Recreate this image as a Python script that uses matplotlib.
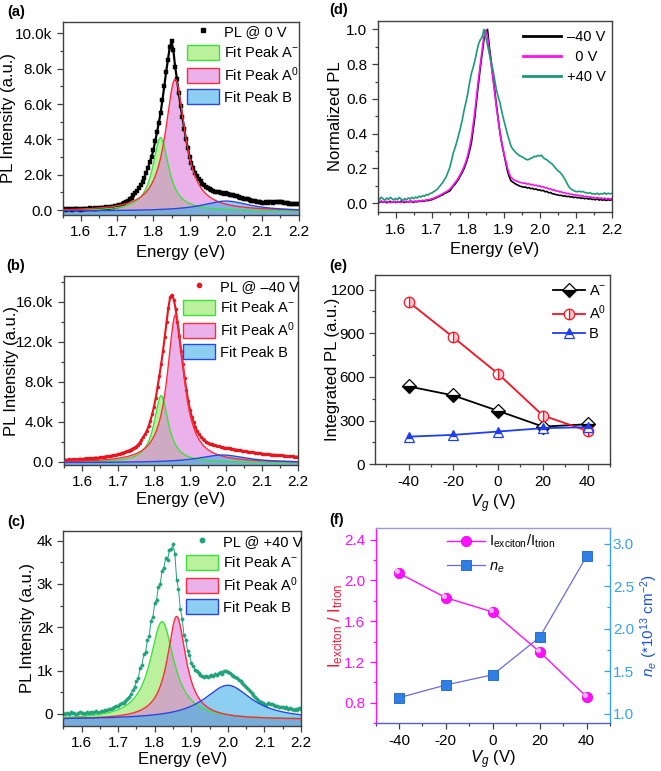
import numpy as np
import matplotlib
matplotlib.use("Agg")
import matplotlib.pyplot as plt
from matplotlib.lines import Line2D
from matplotlib.patches import Patch
from matplotlib.ticker import MultipleLocator
from matplotlib.colors import to_rgba
from matplotlib.transforms import ScaledTranslation

plt.rcParams['font.family'] = ['Liberation Sans', 'DejaVu Sans']
plt.rcParams['mathtext.fontset'] = 'custom'
plt.rcParams['mathtext.rm'] = 'Liberation Sans'
plt.rcParams['mathtext.it'] = 'Liberation Sans:italic'
plt.rcParams['mathtext.bf'] = 'Liberation Sans:bold'
plt.rcParams['axes.unicode_minus'] = False

# ---------------- data ----------------
# spectra sampled from 1.55 eV to 2.20 eV in 0.005 eV steps (131 points)
energy_start = 1.55
energy_step = 0.005
n_points = 131
energy = np.round(energy_start + energy_step * np.arange(n_points), 3)

# (a) PL @ 0 V (k counts)
pl_0V = [
    0.04, 0.07, 0.03, 0.06, 0.05, 0.02, 0.06, 0.04, 0.07, 0.05,
    0.03, 0.06, 0.08, 0.05, 0.07, 0.09, 0.06, 0.08, 0.10, 0.07,
    0.10, 0.12, 0.10, 0.13, 0.15, 0.14, 0.17, 0.19, 0.20, 0.24,
    0.25, 0.29, 0.31, 0.36, 0.40, 0.46, 0.52, 0.62, 0.70, 0.83,
    0.94, 1.08, 1.24, 1.42, 1.60, 1.84, 2.10, 2.40, 2.72, 3.02,
    3.40, 3.90, 4.40, 4.95, 5.50, 6.25, 7.00, 7.80, 8.50, 9.20,
    9.55, 9.05, 8.10, 7.40, 6.60, 5.90, 5.25, 4.60, 4.00, 3.50,
    3.00, 2.65, 2.38, 2.12, 1.92, 1.75, 1.62, 1.50, 1.40, 1.30,
    1.24, 1.17, 1.12, 1.07, 1.05, 1.00, 1.01, 0.97, 0.96, 0.93,
    0.94, 0.90, 0.88, 0.85, 0.83, 0.79, 0.77, 0.73, 0.71, 0.68,
    0.64, 0.62, 0.60, 0.56, 0.54, 0.51, 0.50, 0.47, 0.45, 0.44,
    0.42, 0.41, 0.43, 0.40, 0.43, 0.44, 0.42, 0.46, 0.45, 0.48,
    0.47, 0.44, 0.42, 0.40, 0.38, 0.37, 0.36, 0.33, 0.35, 0.32,
    0.34]

# (b) PL @ -40 V (k counts)
pl_m40V = [
    0.15, 0.22, 0.18, 0.25, 0.20, 0.24, 0.28, 0.22, 0.27, 0.31,
    0.26, 0.30, 0.34, 0.29, 0.35, 0.38, 0.33, 0.40, 0.42, 0.38,
    0.45, 0.48, 0.46, 0.52, 0.55, 0.54, 0.60, 0.63, 0.66, 0.70,
    0.74, 0.80, 0.85, 0.92, 0.98, 1.05, 1.12, 1.20, 1.30, 1.40,
    1.52, 1.68, 1.90, 2.15, 2.45, 2.75, 3.10, 3.55, 4.10, 4.75,
    5.50, 6.40, 7.50, 8.60, 9.80, 11.10, 12.50, 14.00, 15.40, 16.50,
    16.70, 16.20, 15.30, 14.00, 12.60, 11.10, 9.80, 8.40, 7.20, 6.10,
    5.20, 4.50, 3.95, 3.45, 3.05, 2.75, 2.50, 2.30, 2.15, 2.00,
    1.90, 1.82, 1.78, 1.70, 1.64, 1.58, 1.55, 1.48, 1.45, 1.42,
    1.40, 1.35, 1.33, 1.28, 1.26, 1.22, 1.21, 1.16, 1.14, 1.11,
    1.06, 1.05, 1.00, 0.99, 0.95, 0.93, 0.90, 0.87, 0.84, 0.83,
    0.80, 0.79, 0.77, 0.75, 0.73, 0.72, 0.70, 0.69, 0.67, 0.66,
    0.64, 0.63, 0.60, 0.60, 0.57, 0.56, 0.54, 0.53, 0.51, 0.50,
    0.50]

# (c) PL @ +40 V (k counts)
pl_p40V = [
    0.02, -0.01, 0.03, 0.00, 0.04, 0.01, 0.03, -0.02, 0.02, 0.04,
    0.01, 0.03, 0.00, 0.04, 0.02, 0.05, 0.01, 0.04, 0.06, 0.03,
    0.05, 0.07, 0.06, 0.09, 0.08, 0.11, 0.12, 0.14, 0.15, 0.18,
    0.19, 0.22, 0.24, 0.26, 0.30, 0.35, 0.40, 0.47, 0.56, 0.63,
    0.75, 0.82, 1.06, 1.12, 1.38, 1.42, 1.70, 1.80, 2.15, 2.24,
    2.55, 2.64, 2.93, 3.00, 3.30, 3.38, 3.60, 3.55, 3.78, 3.80,
    3.92, 3.70, 3.10, 2.88, 2.42, 2.20, 1.82, 1.70, 1.45, 1.36,
    1.18, 1.10, 1.02, 0.98, 0.95, 0.90, 0.88, 0.86, 0.88, 0.85,
    0.87, 0.90, 0.88, 0.92, 0.90, 0.95, 0.97, 0.93, 0.98, 1.00,
    0.96, 0.95, 0.90, 0.88, 0.84, 0.83, 0.78, 0.76, 0.72, 0.66,
    0.62, 0.57, 0.53, 0.48, 0.43, 0.38, 0.34, 0.30, 0.27, 0.24,
    0.23, 0.21, 0.24, 0.22, 0.23, 0.20, 0.18, 0.19, 0.16, 0.17,
    0.15, 0.14, 0.15, 0.12, 0.13, 0.11, 0.10, 0.12, 0.09, 0.13,
    0.12]

# (d) normalized PL
norm_m40V = [
    0.010, 0.004, 0.012, 0.006, 0.010, 0.003, 0.008, 0.011, 0.005, 0.009,
    0.004, 0.010, 0.006, 0.012, 0.008, 0.004, 0.010, 0.007, 0.012, 0.009,
    0.005, 0.011, 0.008, 0.013, 0.010, 0.014, 0.012, 0.017, 0.015, 0.019,
    0.020, 0.026, 0.028, 0.035, 0.038, 0.045, 0.048, 0.056, 0.060, 0.066,
    0.070, 0.085, 0.100, 0.110, 0.125, 0.140, 0.160, 0.178, 0.200, 0.228,
    0.260, 0.300, 0.345, 0.420, 0.500, 0.600, 0.690, 0.780, 0.860, 0.940,
    0.985, 1.000, 0.900, 0.820, 0.730, 0.650, 0.560, 0.480, 0.400, 0.340,
    0.290, 0.240, 0.190, 0.155, 0.130, 0.122, 0.115, 0.108, 0.104, 0.098,
    0.096, 0.092, 0.094, 0.088, 0.090, 0.084, 0.086, 0.080, 0.082, 0.076,
    0.077, 0.072, 0.074, 0.066, 0.068, 0.060, 0.062, 0.055, 0.053, 0.050,
    0.048, 0.045, 0.046, 0.041, 0.043, 0.038, 0.040, 0.036, 0.037, 0.033,
    0.035, 0.031, 0.033, 0.028, 0.030, 0.026, 0.029, 0.024, 0.027, 0.022,
    0.023, 0.020, 0.025, 0.018, 0.022, 0.017, 0.021, 0.016, 0.020, 0.018,
    0.020]
norm_0V = [
    0.008, 0.012, 0.006, 0.010, 0.005, 0.011, 0.007, 0.003, 0.009, 0.006,
    0.011, 0.005, 0.009, 0.004, 0.008, 0.012, 0.006, 0.010, 0.007, 0.012,
    0.009, 0.013, 0.010, 0.015, 0.012, 0.017, 0.015, 0.020, 0.019, 0.023,
    0.025, 0.029, 0.033, 0.038, 0.043, 0.048, 0.054, 0.060, 0.066, 0.072,
    0.080, 0.092, 0.105, 0.118, 0.132, 0.148, 0.168, 0.188, 0.212, 0.240,
    0.275, 0.320, 0.375, 0.450, 0.530, 0.625, 0.715, 0.800, 0.880, 0.960,
    0.995, 0.960, 0.880, 0.800, 0.715, 0.635, 0.550, 0.475, 0.405, 0.345,
    0.295, 0.250, 0.205, 0.172, 0.150, 0.140, 0.132, 0.128, 0.124, 0.120,
    0.118, 0.115, 0.116, 0.110, 0.112, 0.106, 0.108, 0.102, 0.104, 0.098,
    0.100, 0.094, 0.095, 0.088, 0.090, 0.082, 0.083, 0.076, 0.077, 0.070,
    0.071, 0.065, 0.066, 0.060, 0.061, 0.055, 0.057, 0.051, 0.052, 0.047,
    0.049, 0.044, 0.046, 0.041, 0.043, 0.038, 0.040, 0.035, 0.037, 0.033,
    0.034, 0.030, 0.033, 0.028, 0.031, 0.026, 0.030, 0.025, 0.028, 0.024,
    0.027]
norm_p40V = [
    0.030, 0.022, 0.035, 0.025, 0.018, 0.030, 0.022, 0.034, 0.026, 0.019,
    0.028, 0.021, 0.033, 0.024, 0.016, 0.027, 0.020, 0.031, 0.024, 0.034,
    0.026, 0.036, 0.030, 0.041, 0.035, 0.044, 0.040, 0.050, 0.047, 0.056,
    0.058, 0.066, 0.072, 0.080, 0.092, 0.105, 0.118, 0.135, 0.150, 0.178,
    0.205, 0.245, 0.290, 0.320, 0.355, 0.395, 0.435, 0.480, 0.535, 0.580,
    0.630, 0.690, 0.745, 0.780, 0.820, 0.870, 0.915, 0.940, 0.955, 1.000,
    0.960, 0.910, 0.860, 0.815, 0.770, 0.710, 0.650, 0.610, 0.575, 0.525,
    0.480, 0.440, 0.400, 0.365, 0.330, 0.312, 0.300, 0.288, 0.280, 0.272,
    0.268, 0.262, 0.255, 0.250, 0.252, 0.258, 0.262, 0.270, 0.268, 0.275,
    0.272, 0.276, 0.262, 0.255, 0.250, 0.240, 0.232, 0.225, 0.212, 0.200,
    0.188, 0.180, 0.170, 0.155, 0.138, 0.118, 0.098, 0.085, 0.078, 0.072,
    0.068, 0.066, 0.070, 0.065, 0.068, 0.062, 0.060, 0.057, 0.061, 0.054,
    0.055, 0.052, 0.058, 0.050, 0.056, 0.053, 0.060, 0.052, 0.058, 0.054,
    0.057]

# Lorentzian fit peaks: (center eV, half width eV, amplitude k), plus constant offset
fit_0V = [(1.82, 0.027, 4.16), (1.86, 0.033, 7.46), (2.00, 0.080, 0.57)]
fit_0V_offset = -0.06
fit_m40V = [(1.82, 0.024, 6.70), (1.86, 0.028, 14.80), (1.99, 0.080, 0.77)]
fit_m40V_offset = -0.10
fit_p40V = [(1.82, 0.040, 2.26), (1.86, 0.031, 2.38), (2.00, 0.080, 0.79)]
fit_p40V_offset = -0.13

# (e) integrated PL
gate_V = [-40, -20, 0, 20, 40]
int_Aminus = [535, 473, 367, 259, 275]
int_A0 = [1115, 872, 622, 335, 229]
int_B = [190, 202, 225, 248, 255]

# (f)
ratio_exc_trion = [2.07, 1.83, 1.69, 1.30, 0.86]
n_e = [1.19, 1.34, 1.46, 1.90, 2.85]

# tick labels
ticks_a = [0, 2, 4, 6, 8, 10]
ticklabels_a = ['0.0', '2.0k', '4.0k', '6.0k', '8.0k', '10.0k']
ticks_b = [0, 4, 8, 12, 16]
ticklabels_b = ['0.0', '4.0k', '8.0k', '12.0k', '16.0k']
ticks_c = [0, 1, 2, 3, 4]
ticklabels_c = ['0', '1k', '2k', '3k', '4k']
energy_ticks = [1.6, 1.7, 1.8, 1.9, 2.0, 2.1, 2.2]

# ---------------- figure ----------------
W, H = 661, 771
fig = plt.figure(figsize=(W / 100, H / 100), dpi=100)


def pos(l, t, r, b):
    return [l / W, 1 - b / H, (r - l) / W, (b - t) / H]


FRAME = '#404040'
TICK_FS = 11
LABEL_FS = 12
LEG_FS = 10.5


def style(ax, spine_color=FRAME):
    for s in ax.spines.values():
        s.set_color(spine_color)
        s.set_linewidth(1.0)
    ax.tick_params(which='both', direction='out', top=False, right=False,
                   color=FRAME, labelsize=TICK_FS, width=0.9)
    ax.tick_params(which='major', length=4)
    ax.tick_params(which='minor', length=2.2)


def lorentz(E, center, hw, amp):
    return amp * hw ** 2 / ((E - center) ** 2 + hw ** 2)


fill_cols = ['#8ee85a', '#dc7ddc', '#3fb0ea']
edge_cols = ['#3ee03e', '#ff2a3a', '#2a45e0']
fit_names = ['Fit Peak A$^{-}$', 'Fit Peak A$^{0}$', 'Fit Peak B']


def pl_panel(ax, data, color, marker, ms, lw, label, fits, offset, ylim, yticks,
             yticklabels, yminor, leg_xy):
    Ef = np.linspace(energy[0], energy[-1], 700)
    curves = [offset + lorentz(Ef, *p) for p in fits]
    for y, fc in zip(curves, fill_cols):
        ax.fill_between(Ef, y, ylim[0], color=fc, alpha=0.6, lw=0, zorder=1)
    ax.plot(energy, data, ls='-', lw=lw, marker=marker, ms=ms, color=color,
            mec=color, mew=0.3, zorder=2)
    for y, ec in zip(curves, edge_cols):
        ax.plot(Ef, y, color=ec, lw=1.0, zorder=3)
    ax.set_xlim(1.55, 2.2)
    ax.set_ylim(*ylim)
    ax.set_xticks(energy_ticks)
    ax.set_xticklabels([f'{t:.1f}' for t in energy_ticks])
    ax.xaxis.set_minor_locator(MultipleLocator(0.05))
    ax.set_yticks(yticks)
    ax.set_yticklabels(yticklabels)
    ax.yaxis.set_minor_locator(MultipleLocator(yminor))
    style(ax)
    handles = [Line2D([], [], ls='none', marker=marker, ms=ms + 0.8, color=color)]
    for fc, ec in zip(fill_cols, edge_cols):
        handles.append(Patch(facecolor=to_rgba(fc, 0.6), edgecolor=ec, lw=1.0))
    ax.legend(handles, [label] + fit_names, loc='upper left',
              bbox_to_anchor=(leg_xy[0] / W, 1 - leg_xy[1] / H),
              bbox_transform=fig.transFigure, frameon=False, fontsize=LEG_FS,
              handlelength=2.2, handleheight=1.2, handletextpad=0.35,
              labelspacing=0.36, borderpad=0, borderaxespad=0)


def labels(ax, xlabel, ylabel, box, xtop, yright):
    l, t, r, b = box
    ax.set_xlabel(xlabel, fontsize=LABEL_FS)
    ax.set_ylabel(ylabel, fontsize=LABEL_FS)
    ax.xaxis.set_label_coords(0.5, (b - xtop) / (b - t))
    ax.yaxis.set_label_coords((yright - l) / (r - l), 0.5)


box_a = (62.7, 21.7, 298.5, 215)
box_b = (64, 276, 298, 465)
box_c = (63.3, 530.7, 301, 726)
box_d = (377.7, 20.7, 611.7, 212.3)
box_e = (375, 275, 610, 464.3)
box_f = (375.5, 528.3, 610, 723.3)

ax_a = fig.add_axes(pos(*box_a))
ax_b = fig.add_axes(pos(*box_b))
ax_c = fig.add_axes(pos(*box_c))
ax_d = fig.add_axes(pos(*box_d))
ax_e = fig.add_axes(pos(*box_e))
ax_f = fig.add_axes(pos(*box_f))

pl_panel(ax_a, pl_0V, 'black', 's', 2.2, 1.6, 'PL @ 0 V', fit_0V, fit_0V_offset,
         (-0.28, 10.66), ticks_a, ticklabels_a, 1, (187, 24))
pl_panel(ax_b, pl_m40V, '#e8141e', 'o', 2.2, 1.5, 'PL @ \u201340 V', fit_m40V,
         fit_m40V_offset, (-0.33, 18.57), ticks_b, ticklabels_b, 2, (183, 279))
pl_panel(ax_c, pl_p40V, '#1fa37a', 'o', 2.4, 0.7, 'PL @ +40 V', fit_p40V,
         fit_p40V_offset, (-0.28, 4.23), ticks_c, ticklabels_c, 0.5, (186, 534))
labels(ax_a, 'Energy (eV)', 'PL Intensity (a.u.)', box_a, 245, 16)
labels(ax_b, 'Energy (eV)', 'PL Intensity (a.u.)', box_b, 492, 19)
labels(ax_c, 'Energy (eV)', 'PL Intensity (a.u.)', box_c, 752, 35)

# (d)
ax_d.plot(energy, norm_m40V, color='black', lw=1.2, label='\u201340 V')
ax_d.plot(energy, norm_0V, color='#ff10f0', lw=1.2, label='  0 V')
ax_d.plot(energy, norm_p40V, color='#1a9a78', lw=1.2, label='+40 V')
ax_d.set_xlim(1.55, 2.2)
ax_d.set_ylim(-0.052, 1.05)
ax_d.set_xticks(energy_ticks)
ax_d.set_xticklabels([f'{t:.1f}' for t in energy_ticks])
ax_d.xaxis.set_minor_locator(MultipleLocator(0.05))
ax_d.set_yticks([0, 0.2, 0.4, 0.6, 0.8, 1.0])
ax_d.set_yticklabels(['0.0', '0.2', '0.4', '0.6', '0.8', '1.0'])
ax_d.yaxis.set_minor_locator(MultipleLocator(0.1))
style(ax_d)
leg = ax_d.legend(loc='upper left', bbox_to_anchor=(523 / W, 1 - 30 / H),
                  bbox_transform=fig.transFigure, frameon=False, fontsize=LEG_FS,
                  handlelength=2.6, handletextpad=0.45, labelspacing=0.42,
                  borderpad=0, borderaxespad=0)
for ln in leg.get_lines():
    ln.set_linewidth(2.0)
labels(ax_d, 'Energy (eV)', 'Normalized PL', box_d, 242, 343)

# (e)
ax_e.plot(gate_V, int_Aminus, color='black', lw=1.3, marker='D', ms=7,
          fillstyle='bottom', mfc='black', mfcalt='white', mec='black', mew=0.9,
          label='A$^{-}$')
ax_e.plot(gate_V, int_A0, color='#ff1020', lw=1.3, marker='o', ms=7.5,
          fillstyle='right', mfc='#ffc8d2', mfcalt='white', mec='#ff1020', mew=0.9,
          label='A$^{0}$')
ax_e.plot(gate_V, int_B, color='#1e3cf0', lw=1.3, marker='^', ms=7.5,
          fillstyle='top', mfc='#1e3cf0', mfcalt='white', mec='#1e3cf0', mew=0.9,
          label='B')
ax_e.set_xlim(-55, 50)
ax_e.set_ylim(0, 1300)
ax_e.set_xticks([-40, -20, 0, 20, 40])
ax_e.xaxis.set_minor_locator(MultipleLocator(10))
ax_e.set_yticks([0, 300, 600, 900, 1200])
ax_e.yaxis.set_minor_locator(MultipleLocator(150))
style(ax_e)
ax_e.legend(loc='upper left', bbox_to_anchor=(553 / W, 1 - 284 / H),
            bbox_transform=fig.transFigure, frameon=False, fontsize=LEG_FS,
            handlelength=2.2, handletextpad=0.25, labelspacing=0.35,
            borderpad=0, borderaxespad=0)
labels(ax_e, '$V_g$ (V)', 'Integrated PL (a.u.)', box_e, 492, 340)

# (f)
MAG = '#ff10ff'
RB = '#3aa0f0'
ax_f2 = ax_f.twinx()
ax_f.set_zorder(ax_f2.get_zorder() + 1)
ax_f.patch.set_visible(False)
l1, = ax_f.plot(gate_V, ratio_exc_trion, color=MAG, lw=1.0, marker='o', ms=7.5,
                mfc=MAG, mec='#e000e0', mew=0.5)
hl = ScaledTranslation(-1.4 / 72, 1.4 / 72, fig.dpi_scale_trans)
ax_f.plot(gate_V, ratio_exc_trion, ls='none', marker='o', ms=2.6,
          color='#ffb8ff', transform=ax_f.transData + hl)
l2, = ax_f2.plot(gate_V, n_e, color='#6a6ad8', lw=0.9, marker='s', ms=6.5,
                 mfc='#2f7fe4', mec='#1c62cc', mew=0.6)
ax_f.set_xlim(-50, 50)
ax_f.set_ylim(0.6, 2.51)
ax_f2.set_ylim(0.89, 3.18)
ax_f.set_xticks([-40, -20, 0, 20, 40])
ax_f.xaxis.set_minor_locator(MultipleLocator(10))
ax_f.set_yticks([0.8, 1.2, 1.6, 2.0, 2.4])
ax_f.set_yticklabels(['0.8', '1.2', '1.6', '2.0', '2.4'])
ax_f.yaxis.set_minor_locator(MultipleLocator(0.2))
ax_f2.set_yticks([1.0, 1.5, 2.0, 2.5, 3.0])
ax_f2.set_yticklabels(['1.0', '1.5', '2.0', '2.5', '3.0'])
ax_f2.yaxis.set_minor_locator(MultipleLocator(0.25))
style(ax_f)
ax_f.tick_params(axis='y', which='both', colors=MAG)
ax_f2.tick_params(axis='y', which='both', direction='in', right=True, left=False,
                  colors=RB, labelsize=11, width=0.9, pad=2)
ax_f2.tick_params(axis='y', which='major', length=4)
ax_f2.tick_params(axis='y', which='minor', length=2.2)
for s in ax_f2.spines.values():
    s.set_visible(False)
ax_f.spines['left'].set_color(MAG)
ax_f.spines['right'].set_color(RB)
ax_f.spines['bottom'].set_color('#5a5ad0')
ax_f.spines['top'].set_color('#9a9ad8')
ax_f.set_xlabel('$V_g$ (V)', fontsize=LABEL_FS)
ax_f.xaxis.set_label_coords(0.5, (box_f[3] - 748) / (box_f[3] - box_f[1]))
ax_f.set_ylabel('I$_{\\rm exciton}$ / I$_{\\rm trion}$', fontsize=LABEL_FS,
                color='#f01a3c')
ax_f.yaxis.set_label_coords((345 - box_f[0]) / (box_f[2] - box_f[0]), 0.5)
ax_f2.set_ylabel('$n_e$ (*10$^{13}$ cm$^{-2}$)', fontsize=11, color='#1f4fe0')
ax_f2.yaxis.set_label_coords((638 - box_f[0]) / (box_f[2] - box_f[0]), 0.5)
ax_f.legend([l1, l2], ['I$_{\\rm exciton}$/I$_{\\rm trion}$', '$n_e$'],
            loc='upper left', bbox_to_anchor=(447 / W, 1 - 533 / H),
            bbox_transform=fig.transFigure, frameon=False, fontsize=LEG_FS,
            handlelength=2.6, handletextpad=0.3, labelspacing=0.6,
            borderpad=0, borderaxespad=0)

# panel letters
for txt, x, y in [('(a)', 16, 12), ('(b)', 16, 266), ('(c)', 16, 522),
                  ('(d)', 339, 10), ('(e)', 338, 266), ('(f)', 337, 520)]:
    fig.text(x / W, 1 - y / H, txt, fontsize=10.5, fontweight='bold',
             ha='center', va='center')

fig.savefig('out.png', dpi=100)
